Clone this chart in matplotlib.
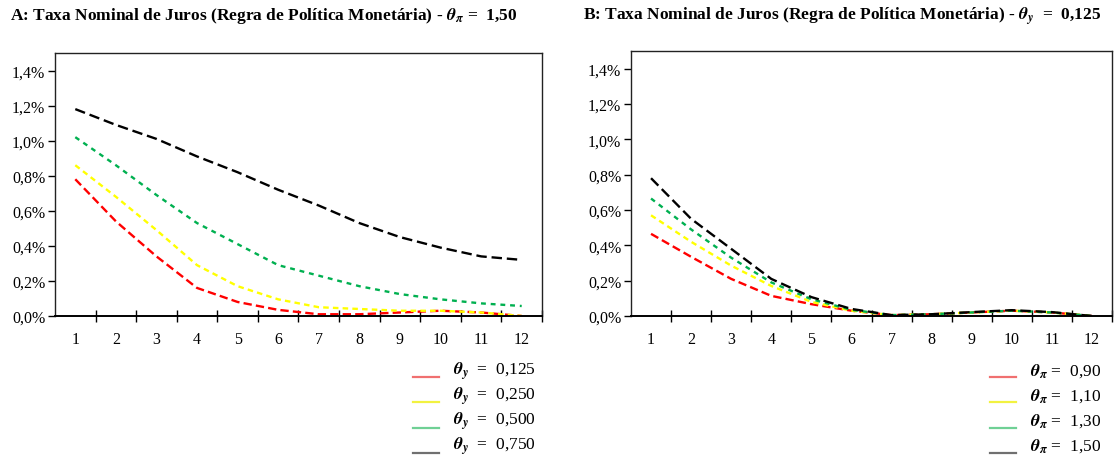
import matplotlib
matplotlib.use("Agg")
import matplotlib.pyplot as plt
from matplotlib.lines import Line2D
from matplotlib.ticker import FuncFormatter, FixedLocator

plt.rcParams["font.family"] = ["Liberation Serif", "DejaVu Serif"]
plt.rcParams["mathtext.fontset"] = "stix"
plt.rcParams["lines.scale_dashes"] = False

W, H = 1115, 460

# -------------------------
# Data (values in %)
# -------------------------
periods = list(range(1, 13))
period_labels = [str(p) for p in periods]

# Panel A: theta_pi = 1,50, varying theta_y
a_labels = ["0,125", "0,250", "0,500", "0,750"]
a_red = [0.78, 0.54, 0.34, 0.16, 0.08, 0.035, 0.01, 0.01, 0.02, 0.03, 0.02, 0.0]
a_yellow = [0.86, 0.68, 0.49, 0.29, 0.17, 0.095, 0.05, 0.04, 0.03, 0.03, 0.02, 0.0]
a_green = [1.02, 0.86, 0.69, 0.53, 0.41, 0.29, 0.23, 0.17, 0.125, 0.095, 0.072, 0.057]
a_black = [1.18, 1.09, 1.01, 0.91, 0.82, 0.72, 0.63, 0.53, 0.45, 0.39, 0.34, 0.32]

# Panel B: theta_y = 0,125, varying theta_pi
b_labels = ["0,90", "1,10", "1,30", "1,50"]
b_red = [0.465, 0.335, 0.21, 0.114, 0.067, 0.03, 0.005, 0.01, 0.02, 0.03, 0.02, 0.0]
b_yellow = [0.57, 0.42, 0.285, 0.17, 0.08, 0.03, 0.005, 0.01, 0.02, 0.03, 0.02, 0.0]
b_green = [0.665, 0.49, 0.33, 0.19, 0.095, 0.035, 0.005, 0.01, 0.02, 0.03, 0.02, 0.0]
b_black = [0.78, 0.55, 0.38, 0.21, 0.107, 0.04, 0.005, 0.01, 0.022, 0.033, 0.022, 0.0]

line_colors = ["#FF0000", "#FFFF00", "#00B050", "#000000"]
legend_colors = ["#F07070", "#F2F240", "#6FD095", "#707070"]
dash_styles = [(0, (6.0, 3.0)), (0, (4.0, 3.0)), (0, (3.5, 3.5)), (0, (7.5, 3.5))]


def style_axis(ax):
    ax.set_xlim(0.5, 12.5)
    ax.set_ylim(0, 1.5)
    ax.set_yticks([0, 0.2, 0.4, 0.6, 0.8, 1.0, 1.2, 1.4])
    ax.yaxis.set_major_formatter(FuncFormatter(lambda v, p: f"{v:.1f}%".replace(".", ",")))
    # category axis: labels centred, tick marks between categories
    ax.set_xticks(periods)
    ax.set_xticklabels(period_labels)
    ax.xaxis.set_minor_locator(FixedLocator([p + 0.5 for p in periods]))
    ax.tick_params(axis="x", which="major", length=0, pad=11, labelsize=11.5)
    ax.tick_params(axis="x", which="minor", length=8, width=1, direction="inout")
    ax.tick_params(axis="y", length=5, width=1, direction="out", labelsize=11.5, pad=2)
    for s in ["top", "right", "left"]:
        ax.spines[s].set_linewidth(1.0)
        ax.spines[s].set_color("#222222")
    ax.spines["bottom"].set_linewidth(1.4)
    ax.spines["bottom"].set_color("black")


def draw_legend(theta_tex, eq_sep, labels, line_x0, line_x1, text_x):
    # legend drawn in figure pixels: pale solid line under each entry
    for i, (lab, col) in enumerate(zip(labels, legend_colors)):
        ly = 378 + 25.3 * i
        ty = 371 + 25 * i
        fig.add_artist(Line2D([line_x0 / W, line_x1 / W], [1 - ly / H, 1 - ly / H],
                              color=col, linewidth=1.6, transform=fig.transFigure))
        fig.text(text_x / W, 1 - ty / H, rf"$\mathbfit{{{theta_tex}}}${eq_sep}{lab}",
                 fontsize=12.5, va="center", ha="left")


def plot_panel(ax, series):
    for vals, col, ds in zip(series, line_colors, dash_styles):
        ax.plot(periods, vals, color=col, linestyle=ds, linewidth=1.7)
    style_axis(ax)


fig = plt.figure(figsize=(W / 100, H / 100), dpi=100)
ax_a = fig.add_axes([55 / W, 1 - 317 / H, 487 / W, 263 / H])
ax_b = fig.add_axes([631 / W, 1 - 317 / H, 481 / W, 265 / H])

plot_panel(ax_a, [a_red, a_yellow, a_green, a_black])
plot_panel(ax_b, [b_red, b_yellow, b_green, b_black])

draw_legend(r"\theta_y", "  =  ", a_labels, 413, 439, 453)
draw_legend(r"\theta_\pi", " =  ", b_labels, 990, 1016, 1030)

fig.text(10 / W, 1 - 16 / H,
         r"A: Taxa Nominal de Juros (Regra de Política Monetária) - $\mathbfit{\theta_\pi}$ =  1,50",
         fontsize=12.5, fontweight="bold", va="center", ha="left")
fig.text(583 / W, 1 - 16 / H,
         r"B: Taxa Nominal de Juros (Regra de Política Monetária) - $\mathbfit{\theta_y}$  =  0,125",
         fontsize=12.5, fontweight="bold", va="center", ha="left")

fig.savefig("out.png", dpi=100, facecolor="white")
